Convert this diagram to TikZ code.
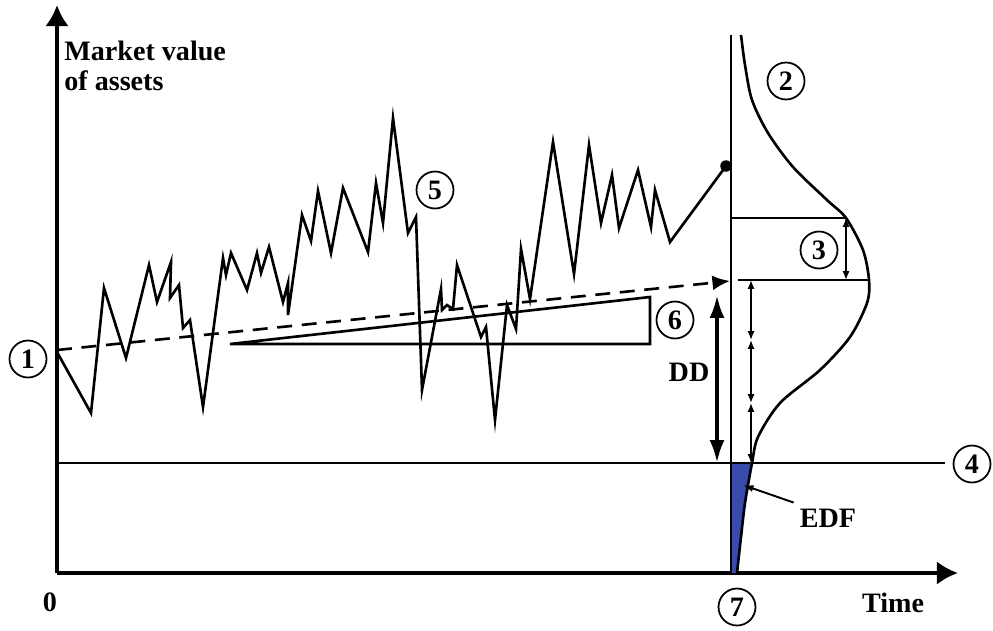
\documentclass[tikz,border=0pt]{standalone}
\usepackage{fontspec}
\setmainfont{Liberation Serif}
\usetikzlibrary{arrows.meta}

\definecolor{edfblue}{RGB}{58,76,170}

\begin{document}
\begin{tikzpicture}[
        x=0.02cm, y=-0.02cm,
        font=\bfseries\fontsize{16}{17}\selectfont,
        axis line/.style={line width=2.8pt, -{Latex[length=12pt,width=13.5pt]}},
        thin line/.style={line width=1.5pt},
        dd arrow/.style={line width=2.2pt, {Latex[length=13pt,width=8.5pt]}-{Latex[length=13pt,width=8.5pt]}},
        sigma arrow/.style={line width=0.9pt, {Latex[length=5pt,width=4pt]}-{Latex[length=5pt,width=4pt]}},
        circled/.style={circle, draw, line width=1pt, minimum size=0.74cm, inner sep=0pt},
        dot/.style={circle, fill, minimum size=0.23cm, inner sep=0pt},
    ]
    \useasboundingbox (0,0) rectangle (993,630);

    % Axes
    \coordinate (origin) at (57,573);
    \coordinate (ytip) at (57,5);
    \coordinate (xtip) at (958,573);
    \draw[axis line] (origin) -- (ytip);
    \draw[axis line] (origin) -- (xtip);
    \node[anchor=north west, inner sep=0pt, align=left] (ylabel) at (64,41) {Market value\\of assets};
    \node (zero) at (50,602) {0};
    \node (xlabel) at (893,603) {Time};

    % Horizon line (time T)
    \coordinate (htop) at (731,35);
    \coordinate (hbot) at (731,573);

    % EDF area below default point
    \begin{scope}
        \clip (731,463) rectangle (800,573);
        \fill[edfblue] plot[smooth] coordinates {
            (741,35) (745,65) (752,100) (768,133) (793,167) (827,200) (846,218) (863,250)
            (869,280) (867,303) (850,337) (820,370) (780,403) (758,437) (752,463)
            (745,503) (741,537) (737,573)} -- (731,573) -- (731,35) -- cycle;
    \end{scope}

    \draw[thin line] (htop) -- (hbot);

    % Distribution of asset value at T
    \draw[thin line] plot[smooth] coordinates {
        (741,35) (745,65) (752,100) (768,133) (793,167) (827,200) (846,218) (863,250)
        (869,280) (867,303) (850,337) (820,370) (780,403) (758,437) (752,463)
        (745,503) (741,537) (737,573)};

    % Default point line
    \coordinate (dp-l) at (57,463);
    \coordinate (dp-r) at (945,463);
    \draw[thin line] (dp-l) -- (dp-r);

    % Expected value and one-sigma lines
    \coordinate (ev-l) at (738,280);
    \coordinate (ev-r) at (869,280);
    \coordinate (sd-l) at (731,218);
    \coordinate (sd-r) at (846,218);
    \draw[thin line] (ev-l) -- (ev-r);
    \draw[thin line] (sd-l) -- (sd-r);
    \draw[sigma arrow] (sd-r) -- (846,280);
    \foreach \ya/\yb in {280/340, 340/403, 403/463} {
        \draw[sigma arrow] (751,\ya) -- (751,\yb);
    }

    % Asset value path
    \node[dot] (endpt) at (726,166) {};
    \draw[thin line, line join=miter] (57,352) -- (91,413) -- (104,288) -- (126,358) -- (149,265) -- (157,302)
        -- (171,262) -- (170,298) -- (179,285) -- (183,328) -- (190,320) -- (203,407) -- (223,258)
        -- (226,275) -- (231,253) -- (247,290) -- (257,253) -- (261,273) -- (269,247) -- (283,302)
        -- (288,283) -- (288,315) -- (302,215) -- (311,241) -- (318,191) -- (331,253) -- (343,188)
        -- (368,252) -- (376,183) -- (383,223) -- (393,118) -- (408,233) -- (416,217) -- (422,390)
        -- (441,289) -- (442,310) -- (447,305) -- (453,309) -- (457,265) -- (481,337) -- (486,327)
        -- (495,420) -- (507,305) -- (516,329) -- (521,249) -- (530,299) -- (553,142) -- (574,274)
        -- (589,145) -- (601,223) -- (612,175) -- (619,228) -- (638,170) -- (651,227) -- (655,190)
        -- (670,242) -- (endpt.center);

    % Expected growth of assets
    \coordinate (start) at (57,350);
    \coordinate (evtip) at (730,281);
    \draw[thin line, dash pattern=on 8.5pt off 5.5pt, -{Latex[length=10pt,width=8.5pt]}] (start) -- (evtip);
    \draw[thin line] (230,344) -- (650,297) -- (650,344) -- cycle;

    % Distance to default
    \coordinate (dd-t) at (717,295);
    \coordinate (dd-b) at (717,463);
    \draw[dd arrow] (dd-t) -- (dd-b);
    \node (dd) at (689,372) {DD};

    % EDF pointer
    \node (edf) at (828,518) {EDF};
    \coordinate (edftip) at (743,485);
    \draw[line width=1.1pt, -{Latex[length=6pt,width=4pt]}] (edf.north west) -- (edftip);

    % Circled markers
    \foreach \name/\pos/\num in {c1/{(28,359)}/1, c2/{(786,81)}/2, c3/{(819,250)}/3, c4/{(972,464)}/4,
                                c5/{(435,190)}/5, c6/{(675,320)}/6, c7/{(737,607)}/7} {
        \node[circled] (\name) at \pos {\num};
    }

\end{tikzpicture}
\end{document}
